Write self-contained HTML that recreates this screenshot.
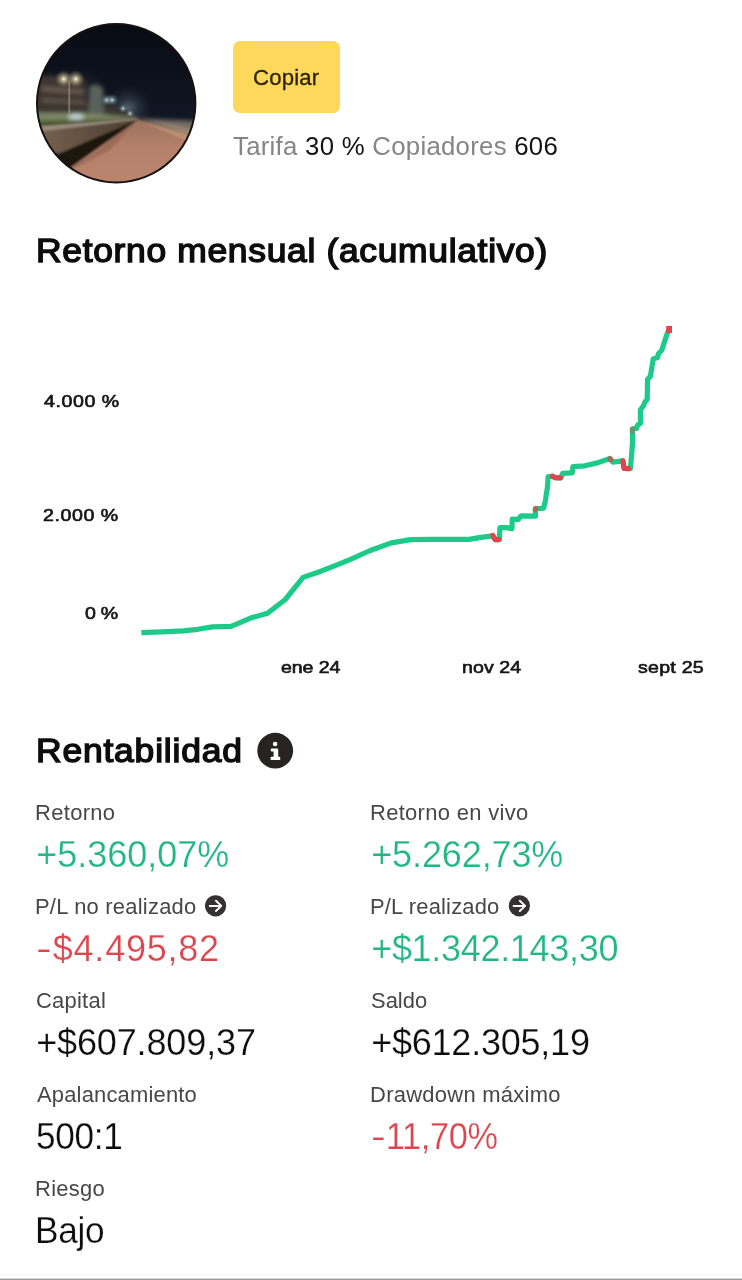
<!DOCTYPE html>
<html lang="es">
<head>
<meta charset="utf-8">
<title>Retorno mensual</title>
<style>
html,body{margin:0;padding:0;background:#fff;}
body{width:742px;height:1280px;position:relative;overflow:hidden;font-family:"Liberation Sans",Arial,sans-serif;color:#111;}
.abs{position:absolute;white-space:nowrap;line-height:1;transform-origin:0 0;}
.btn{position:absolute;left:233.2px;top:41px;width:107.1px;height:71.6px;background:#fdd85b;border-radius:7px;}
.c-btn{color:#2b230a;-webkit-text-stroke:0.3px #2b230a;}
.c-meta{color:#141414;}
.c-meta .m{color:#858585;}
.c-h{font-weight:400;color:#0d0d0d;-webkit-text-stroke:1.4px #0d0d0d;}
.c-l{color:#474747;}
.c-ax{font-weight:400;color:#151515;-webkit-text-stroke:0.65px #151515;}
.c-v{-webkit-text-stroke:0.25px #fff;}
.hy{display:inline-block;transform:scale(1.3,0.9);transform-origin:0 60%;margin-right:3.8px;}
.g{color:#22b685;}
.r{color:#db464f;}
.k{color:#0d0d0d;}
</style>
</head>
<body>
<svg class="abs" style="left:0;top:0" width="742" height="1280" viewBox="0 0 742 1280">
  <defs>
    <clipPath id="av"><circle cx="116.2" cy="103.2" r="79.2"/></clipPath>
    <linearGradient id="sky" x1="0" y1="0" x2="0" y2="1">
      <stop offset="0" stop-color="#080b13"/><stop offset="0.55" stop-color="#0f1522"/><stop offset="1" stop-color="#1a212c"/>
    </linearGradient>
    <radialGradient id="glow1" cx="0.5" cy="0.5" r="0.5">
      <stop offset="0" stop-color="#fff8e0" stop-opacity="1"/><stop offset="0.25" stop-color="#e8dcb8" stop-opacity=".7"/><stop offset="1" stop-color="#8a8060" stop-opacity="0"/>
    </radialGradient>
    <radialGradient id="glow2" cx="0.5" cy="0.5" r="0.5">
      <stop offset="0" stop-color="#e8f4ff" stop-opacity=".95"/><stop offset="0.3" stop-color="#a8c0c8" stop-opacity=".55"/><stop offset="1" stop-color="#50606a" stop-opacity="0"/>
    </radialGradient>
    <radialGradient id="haze" cx="0.5" cy="0.5" r="0.5">
      <stop offset="0" stop-color="#6f8088" stop-opacity=".7"/><stop offset="0.5" stop-color="#40505a" stop-opacity=".35"/><stop offset="1" stop-color="#202830" stop-opacity="0"/>
    </radialGradient>
    <radialGradient id="haze2" cx="0.5" cy="0.5" r="0.5">
      <stop offset="0" stop-color="#6a6258" stop-opacity=".55"/><stop offset="1" stop-color="#302c28" stop-opacity="0"/>
    </radialGradient>
    <linearGradient id="pave" x1="0" y1="0" x2="0" y2="1">
      <stop offset="0" stop-color="#9c725f"/><stop offset="0.4" stop-color="#b4806a"/><stop offset="1" stop-color="#bc876f"/>
    </linearGradient>
    <linearGradient id="wall" x1="0" y1="0" x2="1" y2="0">
      <stop offset="0" stop-color="#7a6450"/><stop offset="1" stop-color="#4a3d33"/>
    </linearGradient>
    <filter id="b1" x="-20%" y="-20%" width="140%" height="140%"><feGaussianBlur stdDeviation="1.3"/></filter>
    <filter id="b2" x="-20%" y="-20%" width="140%" height="140%"><feGaussianBlur stdDeviation="2.2"/></filter>
  </defs>
  <g clip-path="url(#av)">
    <rect x="30" y="20" width="180" height="170" fill="url(#sky)"/>
    <ellipse cx="128" cy="108" rx="26" ry="24" fill="url(#haze)"/>
    <ellipse cx="70" cy="92" rx="40" ry="26" fill="url(#haze2)"/>
    <g filter="url(#b2)">
      <!-- buildings -->
      <polygon points="30,77 44,75 84,79 86,100 89,101 89,87 96,84 103,88 104,104 118,108 128,113 138,118 138,121 30,122" fill="#3d3631"/>
      <polygon points="89,87 96,84 103,88 104,116 89,116" fill="#58625a"/>
      <polygon points="42,86 84,90 84,94 42,91" fill="#6a5c50"/>
      <polygon points="42,98 84,101 84,104 42,102" fill="#62564a"/>
      <!-- shop lights strip -->
      <polygon points="30,113 84,113 138,118 138,120 30,120.5" fill="#7f8868"/>
      <ellipse cx="76" cy="117" rx="8" ry="3" fill="#c8d8d8"/>
      <!-- green strip -->
      <polygon points="30,120 100,119.5 138,119.5 138,121 30,127" fill="#4f5d2c"/>
      <!-- sea wall right -->
      <polygon points="137,118.5 200,121 200,137" fill="#756b64"/>
      <polygon points="137,119 200,131 200,140" fill="#a08c78"/>
    </g>
    <g filter="url(#b1)">
      <!-- pavement -->
      <polygon points="137,119.2 200,141 200,190 40,190 72,166" fill="url(#pave)"/>
      <polygon points="137,119.2 200,137 200,146" fill="#c79878" opacity=".8"/>
      <!-- wall -->
      <polygon points="30,128 137,119 137.6,120.2 60,158 30,152" fill="url(#wall)"/>
      <polygon points="30,126.5 137,118.6 137.3,119.8 30,132.5" fill="#978b7b"/>
      <!-- shadow -->
      <polygon points="137.6,120 72.5,166 40,190 30,190 30,150 58,154" fill="#1c1510"/>
      <polygon points="137.6,120 100,137 60,154 30,148 30,190 50,184 72.5,166" fill="#20170f" opacity=".65"/>
      <polygon points="137.6,120 95,152 72.5,166 60,176 110,150" fill="#8a5c48" opacity=".55"/>
    </g>
    <rect x="68.4" y="81" width="1.7" height="34" fill="#9a9078" opacity=".75"/>
    <circle cx="63.7" cy="79" r="9" fill="url(#glow1)"/>
    <circle cx="75.8" cy="79" r="9" fill="url(#glow1)"/>
    <circle cx="106.8" cy="100" r="6.5" fill="url(#glow2)"/>
    <circle cx="112.2" cy="100" r="6.5" fill="url(#glow2)"/>
    <circle cx="123" cy="108.5" r="4.5" fill="url(#glow2)"/>
    <circle cx="130" cy="113.5" r="4.5" fill="url(#glow2)"/>
  </g>
  <circle cx="116.2" cy="103.2" r="79.2" fill="none" stroke="#17120f" stroke-width="2"/>

  <!-- chart -->
  <g fill="none" stroke-linejoin="round" stroke-linecap="round" stroke-width="5.2">
    <path stroke="#1cca89" stroke-linecap="butt" d="M141.3,632.6 L162.3,631.8 183.4,630.9 197.9,629.3 212.5,626.9 231.1,626.4 250.5,618.1 267.5,613.3 285.3,599.5 303.1,577.4 320.9,571.2 337,564.8 350,559.6 370.2,550.5 391.4,542.9 410.6,539.6 430.9,539.4 469.3,539.4 479.4,537.6 492.5,535.8 495.2,539.6 499.4,539.6 499.9,527.7 506.4,527.6 512,528.6 512.2,519.2 518.4,519.4 521.1,515.8 535.5,516.2 535.3,508.8 543.6,508.1 545.4,500.6 547.5,486.6 548.1,476.9 552.4,476.2 555,477.6 561,477.8 562.6,473.4 572.2,472.8 572.9,466.6 584.8,465.8 597.4,462.9 610,458.5 612.6,462.1 622.8,460.8 624.1,468.3 630.3,468.7 631.6,455 632.5,443 632.4,428.8 636.6,428.4 637.6,425 640.4,423.4 640.4,410 643.6,405.5 645,402 647.2,399.4 647.5,379.5 650.4,376.2 651.5,369.5 653.2,358.9 657.5,357.6 658.5,353.5 661.7,350.4 664,343.3 666.6,335.2 668.9,329.6"/>
    <g stroke="#e0444c">
      <path d="M492.8,535.6 L495.2,539.6 498.6,539.6"/>
      <path d="M552.6,476.2 L555,477.6 560.4,477.8"/>
      <path d="M622.9,460.8 L624.1,468.3 628.6,468.6"/>
      <path d="M535.5,509.6 L535.6,508.4" stroke-opacity=".75"/>
      <path d="M610,458.7 L610.9,459.6" stroke-opacity=".75"/>
      <path d="M632.4,431 L632.4,429.4" stroke-opacity=".4"/>
    </g>
    <rect x="666.2" y="326" width="5.8" height="7" fill="#e0444c" stroke="none"/>
  </g>

  <!-- info icon -->
  <circle cx="275.2" cy="750.7" r="17.9" fill="#262322"/>
  <circle cx="275.1" cy="744" r="2.3" fill="#fff"/>
  <path d="M271.9,748.5 H277.1 Q278.2,748.5 278.2,749.6 V756.8 H279.2 Q280.3,756.8 280.3,757.9 V758.9 Q280.3,760 279.2,760 H271.6 Q270.5,760 270.5,758.9 V757.9 Q270.5,756.8 271.6,756.8 H273.6 V751.6 H271.9 Q270.8,751.6 270.8,750.5 V749.6 Q270.8,748.5 271.9,748.5 Z" fill="#fff"/>

  <!-- arrow icons -->
  <g id="arr1">
    <circle cx="215.6" cy="905.8" r="10.6" fill="#333131"/>
    <path d="M209.8,905.9 H220.8 M216,900.8 L221.3,905.9 L216,911" fill="none" stroke="#fff" stroke-width="2" stroke-linecap="round" stroke-linejoin="round"/>
  </g>
  <g id="arr2" transform="translate(303.8,0)">
    <circle cx="215.6" cy="905.8" r="10.6" fill="#333131"/>
    <path d="M209.8,905.9 H220.8 M216,900.8 L221.3,905.9 L216,911" fill="none" stroke="#fff" stroke-width="2" stroke-linecap="round" stroke-linejoin="round"/>
  </g>

  <rect x="0" y="1274" width="742" height="2" fill="#f9f9f9"/>
  <rect x="0" y="1278" width="742" height="1" fill="#d6d6d6"/>
  <rect x="0" y="1279" width="742" height="1" fill="#9c9c9c"/>
</svg>

<div class="btn"></div>
<div id="copiar" class="abs c-btn" style="left:252.60px;top:68.43px;font-size:21.5px;letter-spacing:0.194px;transform:scaleX(1.0300)">Copiar</div>
<div id="meta" class="abs c-meta" style="left:233.40px;top:133.95px;font-size:25px;letter-spacing:0.272px;transform:scaleX(1.0300)"><span class="m">Tarifa</span> 30 % <span class="m">Copiadores</span> 606</div>
<div id="t1" class="abs c-h" style="left:36.20px;top:234.57px;font-size:32.5px;letter-spacing:0.623px;transform:scaleX(1.0900)">Retorno mensual (acumulativo)</div>
<div id="y4" class="abs c-ax" style="left:43.80px;top:392.55px;font-size:17px;letter-spacing:0.507px;transform:scaleX(1.1500)">4.000 %</div>
<div id="y2" class="abs c-ax" style="left:43.20px;top:507.25px;font-size:17px;letter-spacing:0.507px;transform:scaleX(1.1500)">2.000 %</div>
<div id="y0" class="abs c-ax" style="left:85.20px;top:604.95px;font-size:17px;letter-spacing:-0.217px;transform:scaleX(1.1500)">0 %</div>
<div id="x1" class="abs c-ax" style="left:281.40px;top:659.15px;font-size:17px;letter-spacing:-0.087px;transform:scaleX(1.1500)">ene 24</div>
<div id="x2" class="abs c-ax" style="left:461.80px;top:659.15px;font-size:17px;letter-spacing:0.087px;transform:scaleX(1.1500)">nov 24</div>
<div id="x3" class="abs c-ax" style="left:637.60px;top:659.15px;font-size:17px;letter-spacing:0.217px;transform:scaleX(1.1500)">sept 25</div>
<div id="t2" class="abs c-h" style="left:36.20px;top:734.77px;font-size:32.5px;letter-spacing:0.751px;transform:scaleX(1.0900)">Rentabilidad</div>
<div id="l1" class="abs c-l" style="left:35.40px;top:802.79px;font-size:21.3px;letter-spacing:0.324px;transform:scaleX(1.0300)">Retorno</div>
<div id="v1" class="abs c-v g" style="left:36.20px;top:836.70px;font-size:36px;letter-spacing:0.000px;transform:scaleX(1.0000)">+5.360,07%</div>
<div id="l2" class="abs c-l" style="left:370.40px;top:802.79px;font-size:21.3px;letter-spacing:0.312px;transform:scaleX(1.0300)">Retorno en vivo</div>
<div id="v2" class="abs c-v g" style="left:371.20px;top:836.70px;font-size:36px;letter-spacing:-0.111px;transform:scaleX(1.0000)">+5.262,73%</div>
<div id="l3" class="abs c-l" style="left:35.40px;top:896.89px;font-size:21.3px;letter-spacing:0.227px;transform:scaleX(1.0300)">P/L no realizado</div>
<div id="v3" class="abs c-v r" style="left:36.20px;top:930.80px;font-size:36px;letter-spacing:0.778px;transform:scaleX(1.0000)"><span class="hy">-</span>$4.495,82</div>
<div id="l4" class="abs c-l" style="left:370.40px;top:896.89px;font-size:21.3px;letter-spacing:0.162px;transform:scaleX(1.0300)">P/L realizado</div>
<div id="v4" class="abs c-v g" style="left:371.20px;top:930.80px;font-size:36px;letter-spacing:-0.308px;transform:scaleX(1.0000)">+$1.342.143,30</div>
<div id="l5" class="abs c-l" style="left:36.40px;top:991.00px;font-size:21.3px;letter-spacing:0.243px;transform:scaleX(1.0300)">Capital</div>
<div id="v5" class="abs c-v k" style="left:36.20px;top:1024.90px;font-size:36px;letter-spacing:-0.136px;transform:scaleX(1.0000)">+$607.809,37</div>
<div id="l6" class="abs c-l" style="left:371.40px;top:991.00px;font-size:21.3px;letter-spacing:0.000px;transform:scaleX(1.0300)">Saldo</div>
<div id="v6" class="abs c-v k" style="left:371.20px;top:1024.90px;font-size:36px;letter-spacing:-0.227px;transform:scaleX(1.0000)">+$612.305,19</div>
<div id="l7" class="abs c-l" style="left:37.40px;top:1085.10px;font-size:21.3px;letter-spacing:0.187px;transform:scaleX(1.0300)">Apalancamiento</div>
<div id="v7" class="abs c-v k" style="left:36.20px;top:1119.00px;font-size:36px;letter-spacing:-0.300px;transform:scaleX(0.9769)">500:1</div>
<div id="l8" class="abs c-l" style="left:370.40px;top:1085.10px;font-size:21.3px;letter-spacing:0.277px;transform:scaleX(1.0300)">Drawdown máximo</div>
<div id="v8" class="abs c-v r" style="left:371.20px;top:1119.00px;font-size:36px;letter-spacing:-0.300px;transform:scaleX(0.9511)"><span class="hy">-</span>11,70%</div>
<div id="l9" class="abs c-l" style="left:35.40px;top:1179.19px;font-size:21.3px;letter-spacing:0.291px;transform:scaleX(1.0300)">Riesgo</div>
<div id="v9" class="abs c-v k" style="left:35.20px;top:1213.10px;font-size:36px;letter-spacing:-0.300px;transform:scaleX(0.9784)">Bajo</div>
</body>
</html>
